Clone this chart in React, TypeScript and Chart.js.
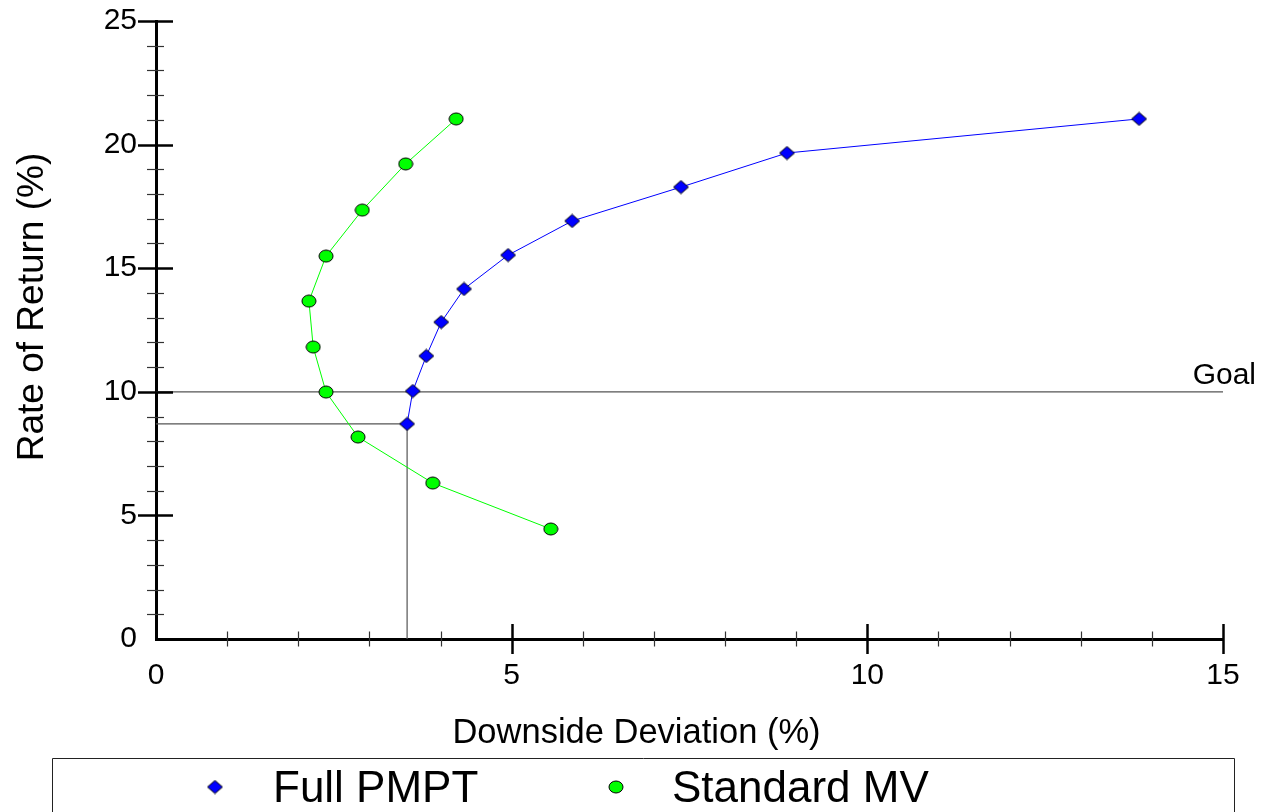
import React, { useEffect, useRef } from "react";
import { Chart, registerables } from "chart.js";

Chart.register(...registerables);

const FONT = "'Liberation Sans', Arial, Helvetica, sans-serif";

// ---- data ----
const seriesLabels = ["Full PMPT", "Standard MV"];
const pmptX = [3.53, 3.61, 3.8, 4.01, 4.33, 4.95, 5.85, 7.38, 8.87, 13.82];
const pmptY = [8.7, 10.03, 11.45, 12.82, 14.16, 15.53, 16.91, 18.28, 19.66, 21.04];
const mvX = [5.55, 3.89, 2.84, 2.39, 2.21, 2.15, 2.39, 2.9, 3.51, 4.22];
const mvY = [4.45, 6.31, 8.17, 9.99, 11.81, 13.67, 15.49, 17.35, 19.22, 21.04];
const goalValue = 10;
const goalLabel = "Goal";
const xRange = [0, 15];
const yRange = [0, 25];
const majorStep = 5;
const minorStep = 1;
const xTitle = "Downside Deviation (%)";
const yTitle = "Rate of Return (%)";

function makeMarker(kind: "diamond" | "ellipse", w: number, h: number, fill: string) {
  const c = document.createElement("canvas");
  c.width = w + 2;
  c.height = h + 2;
  const ctx = c.getContext("2d")!;
  const cx = c.width / 2;
  const cy = c.height / 2;
  ctx.beginPath();
  if (kind === "ellipse") {
    ctx.ellipse(cx, cy, w / 2, h / 2, 0, 0, Math.PI * 2);
  } else {
    ctx.moveTo(cx, cy - h / 2);
    ctx.lineTo(cx + w / 2, cy);
    ctx.lineTo(cx, cy + h / 2);
    ctx.lineTo(cx - w / 2, cy);
    ctx.closePath();
  }
  ctx.fillStyle = fill;
  ctx.fill();
  ctx.lineWidth = 1;
  ctx.strokeStyle = "#000";
  ctx.stroke();
  return c;
}

export default function App() {
  const ref = useRef<HTMLCanvasElement | null>(null);

  useEffect(() => {
    document.body.style.margin = "0";
    document.body.style.overflow = "hidden";
    const canvas = ref.current;
    if (!canvas) return;

    const diamond = makeMarker("diamond", 15, 13, "#0000ff");
    const ellipse = makeMarker("ellipse", 14, 12, "#00ff00");

    const ticksPlugin = {
      id: "customTicks",
      afterDraw(chart: any) {
        const { ctx, scales } = chart;
        const xs = scales.x;
        const ys = scales.y;
        const axisY = ys.getPixelForValue(yRange[0]);
        const axisX = xs.getPixelForValue(xRange[0]);
        ctx.save();
        for (let v = xRange[0] + minorStep; v <= xRange[1] + 1e-9; v += minorStep) {
          const px = Math.round(xs.getPixelForValue(v)) + 0.5;
          const major = Math.abs(v / majorStep - Math.round(v / majorStep)) < 1e-9;
          ctx.beginPath();
          ctx.lineWidth = major ? 2.5 : 1.2;
          ctx.strokeStyle = major ? "#000" : "#333";
          const l = major ? 15 : 7.5;
          ctx.moveTo(px, axisY - l);
          ctx.lineTo(px, axisY + l);
          ctx.stroke();
        }
        for (let v = yRange[0] + minorStep; v <= yRange[1] + 1e-9; v += minorStep) {
          const py = Math.round(ys.getPixelForValue(v)) + 0.5;
          const major = Math.abs(v / majorStep - Math.round(v / majorStep)) < 1e-9;
          ctx.beginPath();
          ctx.lineWidth = major ? 2.5 : 1.2;
          ctx.strokeStyle = major ? "#000" : "#333";
          ctx.moveTo(axisX - (major ? 18 : 9), py);
          ctx.lineTo(axisX + (major ? 17 : 8), py);
          ctx.stroke();
        }
        ctx.fillStyle = "#000";
        // goal label
        ctx.font = `30px ${FONT}`;
        ctx.textAlign = "right";
        ctx.textBaseline = "alphabetic";
        ctx.fillText(goalLabel, chart.chartArea.right + 33, ys.getPixelForValue(goalValue) - 8);
        // axis titles
        ctx.textAlign = "center";
        ctx.font = `34.5px ${FONT}`;
        ctx.fillText(xTitle, 636.5, 743);
        ctx.save();
        ctx.translate(43, 307);
        ctx.rotate(-Math.PI / 2);
        ctx.font = `37px ${FONT}`;
        ctx.fillText(yTitle, 0, 0);
        ctx.restore();
        // legend box
        ctx.beginPath();
        ctx.lineWidth = 1;
        ctx.strokeStyle = "#222";
        ctx.rect(52.5, 758.5, 1182, 100);
        ctx.stroke();
        ctx.font = `44px ${FONT}`;
        ctx.textAlign = "left";
        ctx.drawImage(diamond, 215 - diamond.width / 2, 787 - diamond.height / 2);
        ctx.fillText(seriesLabels[0], 273, 802);
        ctx.drawImage(ellipse, 616 - ellipse.width / 2, 787 - ellipse.height / 2);
        ctx.fillText(seriesLabels[1], 672, 802);
        ctx.restore();
      },
    };

    const chart = new Chart(canvas, {
      type: "line",
      data: {
        datasets: [
          {
            label: seriesLabels[0],
            data: pmptX.map((x, i) => ({ x, y: pmptY[i] })),
            borderColor: "#0000ff",
            borderWidth: 1,
            pointStyle: diamond as any,
            pointRadius: 7,
            showLine: true,
            tension: 0,
          },
          {
            label: seriesLabels[1],
            data: mvX.map((x, i) => ({ x, y: mvY[i] })),
            borderColor: "#00ff00",
            borderWidth: 1,
            pointStyle: ellipse as any,
            pointRadius: 7,
            showLine: true,
            tension: 0,
          },
          {
            label: "goal",
            data: [
              { x: xRange[0], y: goalValue },
              { x: xRange[1], y: goalValue },
            ],
            borderColor: "#555",
            borderWidth: 1.2,
            pointRadius: 0,
          },
          {
            label: "drop",
            data: [
              { x: xRange[0], y: pmptY[0] },
              { x: pmptX[0], y: pmptY[0] },
              { x: pmptX[0], y: yRange[0] },
            ],
            borderColor: "#555",
            borderWidth: 1.2,
            pointRadius: 0,
          },
        ],
      },
      options: {
        responsive: false,
        animation: false,
        events: [],
        layout: { padding: { top: 21, right: 43, bottom: 0, left: 0 } },
        plugins: { legend: { display: false }, tooltip: { enabled: false } },
        scales: {
          x: {
            type: "linear",
            min: xRange[0],
            max: xRange[1],
            afterFit: (s: any) => {
              s.height = 173;
              s.paddingLeft = 0;
              s.paddingRight = 0;
              s.paddingTop = 0;
              s.paddingBottom = 0;
            },
            grid: { display: false, drawTicks: false },
            border: { display: true, color: "#000", width: 3 },
            ticks: {
              stepSize: majorStep,
              color: "#000",
              padding: 19,
              font: { family: FONT, size: 30 },
              maxRotation: 0,
            },
            title: { display: false },
          },
          y: {
            type: "linear",
            min: yRange[0],
            max: yRange[1],
            afterFit: (s: any) => {
              s.width = 156;
              s.paddingLeft = 0;
              s.paddingRight = 0;
              s.paddingTop = 0;
              s.paddingBottom = 0;
            },
            grid: { display: false, drawTicks: false },
            border: { display: true, color: "#000", width: 3 },
            ticks: {
              stepSize: majorStep,
              color: "#000",
              padding: 19,
              font: { family: FONT, size: 30 },
            },
            title: { display: false },
          },
        },
      },
      plugins: [ticksPlugin],
    });

    return () => chart.destroy();
  }, []);

  return (
    <div style={{ position: "relative", width: 1266, height: 812, background: "#fff" }}>
      <canvas ref={ref} width={1266} height={812} style={{ display: "block" }} />
    </div>
  );
}
